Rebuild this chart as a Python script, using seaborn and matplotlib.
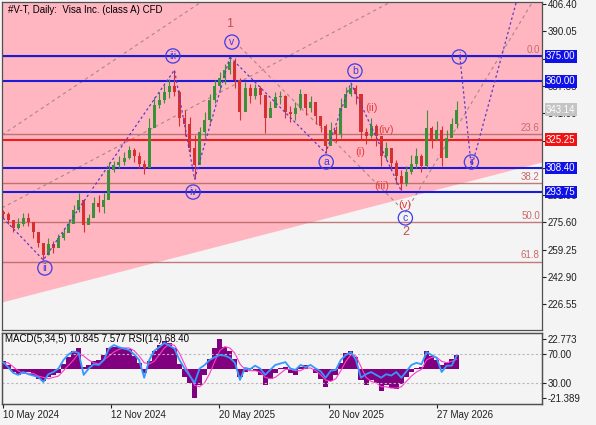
# Gráfico diario #V-T con ondas de Elliott, MACD y RSI
# ==============================================================================
import numpy as np
import pandas as pd
import matplotlib
matplotlib.use("Agg")
import matplotlib.pyplot as plt
import matplotlib.transforms as mtransforms
import seaborn as sns

# Datos
# ==============================================================================
open0 = 282.0
closes = [280.7, 277.1, 272.3, 274.7, 278.3, 275.9, 269.9, 263.3, 256.1, 262.7,
          260.3, 266.3, 269.3, 274.7, 283.1, 289.0, 274.1, 278.3, 287.2, 284.8,
          289.0, 307.0, 310.0, 311.8, 314.2, 319.0, 315.4, 310.6, 308.2, 332.2,
          345.9, 348.9, 353.7, 357.3, 353.7, 338.1, 334.5, 320.2, 310.0, 329.8,
          336.9, 348.9, 357.3, 362.1, 366.9, 371.7, 360.9, 341.7, 356.1, 351.3,
          356.1, 351.9, 338.1, 344.1, 350.7, 351.3, 341.7, 340.5, 344.1, 352.5,
          344.1, 347.7, 339.3, 333.4, 321.4, 331.0, 328.6, 344.1, 352.5, 356.1,
          352.5, 329.8, 327.4, 333.4, 327.4, 315.4, 320.2, 311.2, 303.4, 298.6,
          305.8, 310.6, 315.4, 309.4, 332.2, 325.0, 331.0, 314.2, 326.2, 334.5,
          343.14]
highs = [283.1, 281.9, 277.1, 278.3, 281.3, 281.3, 274.1, 269.3, 262.7, 266.3,
         264.5, 268.7, 272.3, 277.7, 286.0, 293.2, 284.8, 280.7, 290.8, 292.0,
         293.2, 311.8, 312.4, 315.4, 317.8, 321.4, 320.2, 317.8, 313.0, 338.1,
         350.7, 353.7, 357.9, 361.5, 366.9, 354.9, 343.1, 338.7, 328.0, 332.8,
         341.7, 352.5, 360.9, 365.7, 370.5, 374.7, 374.1, 362.1, 359.7, 358.5,
         358.5, 357.3, 351.9, 348.3, 353.7, 354.3, 351.9, 345.3, 347.7, 355.5,
         350.1, 351.3, 345.3, 339.3, 334.5, 335.7, 333.4, 350.1, 356.7, 359.1,
         357.9, 350.1, 332.2, 338.1, 334.5, 327.4, 323.8, 319.0, 313.0, 307.0,
         309.4, 316.0, 320.2, 316.6, 342.9, 333.4, 336.3, 333.4, 331.0, 338.1,
         348.3]
lows = [278.3, 274.7, 269.9, 271.7, 273.5, 273.5, 266.3, 260.9, 253.1, 256.1,
        257.3, 260.9, 265.1, 269.9, 276.5, 281.9, 269.9, 274.7, 280.7, 281.9,
        281.3, 291.4, 305.8, 308.2, 310.0, 313.6, 311.8, 308.2, 304.6, 313.0,
        335.7, 344.1, 347.1, 350.1, 351.3, 333.4, 327.4, 317.8, 301.6, 314.2,
        326.2, 335.1, 347.1, 354.9, 358.5, 364.5, 356.1, 336.9, 350.1, 347.1,
        349.5, 346.5, 329.2, 339.9, 345.3, 346.5, 338.1, 335.7, 336.9, 342.9,
        339.9, 341.7, 334.5, 329.8, 317.2, 325.0, 323.8, 326.2, 346.5, 351.3,
        346.5, 325.0, 322.6, 326.2, 321.4, 309.4, 313.0, 307.0, 298.6, 294.4,
        297.4, 304.6, 308.2, 305.8, 308.2, 320.2, 325.0, 309.4, 319.0, 327.4,
        332.2]

macd = [6, 3, -2, -4, -3, -2, -5, -7, -9, -6,
        -4, -3, 4, 9, 14, 16, 2, 3, 6, 7,
        11, 16, 17, 17, 16, 15, 10, 5, -3, 6,
        14, 18, 21, 20, 16, 4, -6, -10, -21.389, -12,
        -4, 8, 16, 22.773, 17, 14, 8, -6, -2, 1,
        -1, -4, -12, -7, -3, 1, 2, -3, -4, 2,
        3, 0, -3, -7, -13, -9, -4, 5, 12, 14,
        9, -8, -12, -8, -10, -16, -12, -14, -15, -11,
        -6, -2, 1, 2, 14, 10, 7, 3, 5, 8,
        10.845]
signal = [5, 5, 2, -1, -3, -3, -3, -5, -6, -7,
          -6, -5, -1, 3, 7, 12, 10, 7, 5, 4,
          7, 10, 13, 15, 16, 16, 14, 10, 5, 4,
          6, 11, 16, 19, 18, 12, 4, -4, -12, -13,
          -10, -3, 6, 14, 17, 16, 12, 4, 0, -1,
          -1, -2, -6, -7, -6, -3, 0, 0, -1, -1,
          1, 1, -1, -4, -8, -9, -7, -1, 6, 11,
          10, 2, -6, -9, -10, -13, -13, -14, -14, -13,
          -9, -5, -2, 0, 7, 9, 9, 6, 5, 6,
          7.577]
rsi = [59, 52, 44, 41, 45, 42, 40, 38, 31, 42,
       45, 50, 62, 70, 74, 72, 41, 50, 56, 55,
       62, 78, 83, 80, 78, 76, 70, 62, 37, 62,
       75, 80, 86, 82, 78, 62, 50, 40, 30, 50,
       55, 62, 66, 69, 68, 65, 58, 34, 51, 49,
       54, 50, 41, 48, 55, 57, 59, 50, 48, 55,
       52, 55, 50, 46, 37, 47, 48, 62, 69, 73,
       62, 37, 42, 45, 41, 37, 42, 40, 45, 37,
       46, 55, 58, 56, 73, 69, 65, 45, 54, 54,
       68.40]

date_labels = ["10 May 2024", "12 Nov 2024", "20 May 2025", "20 Nov 2025", "27 May 2026"]
date_pos = [0, 21.43, 42.86, 64.68, 86.1]

price_ticks = [406.40, 390.05, 373.70, 357.35, 341.00, 324.65,
               308.30, 291.95, 275.60, 259.25, 242.90, 226.55]
blue_levels = [375.00, 360.00, 308.40, 293.75]
red_levels = [325.25]
fib_names = ["0.0", "23.6", "38.2", "50.0", "61.8"]
fib_values = [375.0, 328.3, 299.2, 275.75, 252.2]

# canal (zona rosa) y líneas de tendencia
channel_x = [-0.2, 106.9]
channel_low = [228.0, 311.8]
trend_lines = [([-0.2, 41.0], [328.0, 411.0]),
               ([-0.2, 79.0], [284.3, 411.0]),
               ([47.0, 79.8], [380.7, 281.7]),
               ([79.8, 105.5], [281.7, 410.0])]

# ondas de Elliott: índices de barra de los extremos
wave1_idx = [0, 8, 34, 38, 45]
wave1_kind = ["low", "low", "high", "low", "high"]
wave2_idx = [45, 64, 69, 79]
wave2_kind = ["high", "low", "high", "low"]
proj_bars = [90.6, 92.9, 102.2]
proj_prices = [375.0, 308.4, 412.0]

circle_labels = ["ii", "iii", "iv", "v", "a", "b", "c", "i", "ii"]
circle_bars = [8.3, 33.7, 37.7, 45.4, 64.1, 69.8, 79.8, 90.5, 92.9]
circle_prices = [248.3, 375.3, 293.8, 383.6, 311.8, 366.3, 278.3, 374.7, 311.8]
sub_labels = ["(i)", "(ii)", "(iii)", "(iv)", "(v)"]
sub_bars = [70.8, 73.0, 75.2, 76.0, 79.6]
sub_prices = [317.8, 344.1, 297.4, 331.0, 286.0]
degree_labels = ["1", "2"]
degree_bars = [45.0, 79.8]
degree_prices = [394.4, 269.9]

title = "#V-T, Daily:  Visa Inc. (class A) CFD"
ind_label = "MACD(5,34,5) 10.845 7.577 RSI(14) 68.40"

# Estilo
# ==============================================================================
sns.set_style("white")
plt.rcParams['font.family'] = ['Liberation Sans', 'DejaVu Sans']
BG = "#f4f4f4"
PINK = "#ffb6c1"
BLUE = "#1c1cd8"
RED = "#f01c1c"
FIB = "#b86464"
WAVE = "#5a3cc8"
GREY = "#a88888"
FS = 7

fig = plt.figure(figsize=(5.96, 4.25), dpi=100, facecolor=BG)
ax = fig.add_axes([2/596, 1-330/425, 540/596, 328/425], facecolor=BG)
axm = fig.add_axes([2/596, 1-404/425, 540/596, 71/425], facecolor=BG, sharex=ax)

df = pd.DataFrame({"close": closes, "high": highs, "low": lows})
df["open"] = [open0] + closes[:-1]
df["bar"] = np.arange(len(df))

# zona rosa del canal
ax.fill_between(channel_x, channel_low, 420, color=PINK, zorder=0, lw=0)

# niveles de Fibonacci
tr = mtransforms.blended_transform_factory(ax.transAxes, ax.transData)
for name, val in zip(fib_names, fib_values):
    ax.axhline(val, color=FIB, lw=1.0, alpha=0.85, zorder=1)
    ax.text(0.996, val + 0.8, name, transform=tr, ha="right", va="bottom", fontsize=FS, color="#c86a6a")

# soportes / resistencias
for val in blue_levels:
    ax.axhline(val, color=BLUE, lw=1.5, zorder=2)
for val in red_levels:
    ax.axhline(val, color=RED, lw=1.5, zorder=2)

# líneas de tendencia punteadas
for xs, ys in trend_lines:
    ax.plot(xs, ys, color=GREY, lw=0.8, ls=(0, (3, 3)), zorder=1.5)

# velas
up = df["close"] >= df["open"]
colors = np.where(up, "#3a913a", "#d83030")
ax.vlines(df["bar"], df["low"], df["high"], colors=colors, lw=0.8, zorder=3)
ax.bar(df["bar"], (df["close"] - df["open"]).abs().clip(lower=0.4),
       bottom=df[["open", "close"]].min(axis=1), width=0.6, color=colors, zorder=3, lw=0)

# ondas
def pts(idx, kind):
    return [df["high"][i] if k == "high" else df["low"][i] for i, k in zip(idx, kind)]

ax.plot(wave1_idx, pts(wave1_idx, wave1_kind), color=WAVE, lw=0.9, ls=(0, (2, 2)), zorder=4)
ax.plot(wave2_idx, pts(wave2_idx, wave2_kind), color=WAVE, lw=0.9, ls=(0, (2, 2)), zorder=4)
ax.plot(proj_bars, proj_prices, color=WAVE, lw=0.9, ls=(0, (2, 2)), zorder=4)

ax.scatter(circle_bars, circle_prices, s=105, facecolors="none", edgecolors="#3c3ce6", lw=0.9, zorder=5)
for lab, bx, py in zip(circle_labels, circle_bars, circle_prices):
    ax.text(bx, py, lab, ha="center", va="center", fontsize=7.5, color="#3c3ce6", zorder=6)
for lab, bx, py in zip(sub_labels, sub_bars, sub_prices):
    ax.text(bx, py, lab, ha="center", va="center", fontsize=8, color="#e23c3c", zorder=6)
for lab, bx, py in zip(degree_labels, degree_bars, degree_prices):
    ax.text(bx, py, lab, ha="center", va="center", fontsize=9, color="#c0504d", zorder=6)

ax.text(0.011, 0.976, title, transform=ax.transAxes, ha="left", va="center", fontsize=FS, color="black")

ax.set_xlim(-0.2, 106.9)
ax.set_ylim(211.2, 407.6)
ax.yaxis.tick_right()
ax.set_yticks(price_ticks)
ax.set_yticklabels([f"{v:.2f}" for v in price_ticks])
ax.tick_params(axis="y", length=3, width=0.8, labelsize=FS, pad=1, colors="#202020", right=True, left=False)
ax.tick_params(axis="x", bottom=False, labelbottom=False)

# etiquetas de precio en cajas
for val in blue_levels:
    ax.text(1.0075, val, f"{val:.2f}", transform=tr, ha="left", va="center", fontsize=FS, color="white",
            bbox=dict(boxstyle="square,pad=0.12", fc="#1010e8", ec="none"), zorder=10, clip_on=False)
for val in red_levels:
    ax.text(1.0075, val, f"{val:.2f}", transform=tr, ha="left", va="center", fontsize=FS, color="white",
            bbox=dict(boxstyle="square,pad=0.12", fc="#ee1414", ec="none"), zorder=10, clip_on=False)
ax.text(1.0075, closes[-1], f"{closes[-1]:.2f}", transform=tr, ha="left", va="center", fontsize=FS, color="white",
        bbox=dict(boxstyle="square,pad=0.12", fc="#c4c4c4", ec="none"), zorder=10, clip_on=False)

# Panel MACD + RSI
# ==============================================================================
axm.bar(df["bar"], macd, width=1.0, color="#800080", lw=0, zorder=2)
sns.lineplot(x=df["bar"], y=signal, ax=axm, color="#ff3cc8", lw=0.8, zorder=3)
axm.set_ylim(-25.9, 27.2)

axr = axm.twinx()
axr.set_ylim(0, 100)
for lvl in (70, 30):
    axr.axhline(lvl, color="#b8b8b8", lw=0.8, ls=(0, (2, 2)), zorder=1)
sns.lineplot(x=df["bar"], y=rsi, ax=axr, color="#3399ff", lw=1.3, zorder=4)
axr.set_yticks([70, 30])
axr.set_yticklabels(["70.00", "30.00"])
axr.tick_params(axis="y", length=3, width=0.8, labelsize=FS, pad=1, colors="#202020")
axr.set_ylabel("")
axr.set_xlim(-0.2, 106.9)

axm.yaxis.tick_right()
axm.yaxis.set_label_position("right")
axm.set_yticks([22.773, -21.389])
axm.set_yticklabels(["22.773", "-21.389"])
axm.tick_params(axis="y", length=3, width=0.8, labelsize=FS, pad=1, colors="#202020",
                right=True, left=False, labelright=True, labelleft=False)
axm.set_ylabel("")

axm.set_xticks(date_pos)
axm.set_xticklabels(date_labels, ha="left", fontsize=FS)
axm.tick_params(axis="x", length=3, width=0.8, pad=1, colors="#202020", bottom=True)
axm.set_xlabel("")
axr.text(0.006, 0.915, ind_label, transform=axr.transAxes, ha="left", va="center", fontsize=FS, color="black", zorder=6)

for a in (ax, axm, axr):
    for s in a.spines.values():
        s.set_color("#505050")
        s.set_linewidth(0.9)

fig.savefig("out.png", dpi=100, facecolor=BG)
